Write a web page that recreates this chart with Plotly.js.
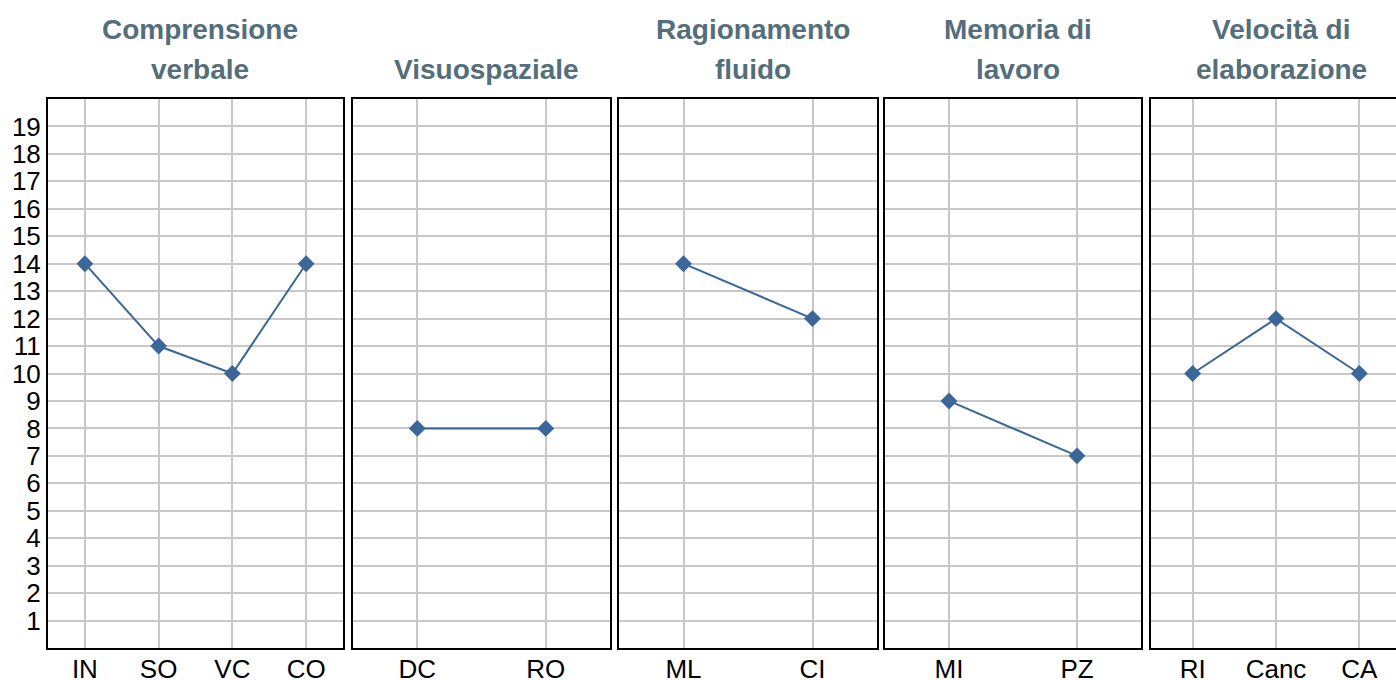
<!DOCTYPE html>
<html><head><meta charset="utf-8">
<script src="https://cdn.plot.ly/plotly-3.0.1.min.js"></script>
<style>html,body{margin:0;padding:0;overflow:hidden;background:#fff;}#chart{width:1402px;height:680px;}</style>
</head><body><div id="chart"></div>
<script>
const panelTitles = [["Comprensione","verbale"],["Visuospaziale"],["Ragionamento","fluido"],["Memoria di","lavoro"],["Velocità di","elaborazione"]];
const cats1 = ["IN","SO","VC","CO"]; const vals1 = [14,11,10,14];
const cats2 = ["DC","RO"]; const vals2 = [8,8];
const cats3 = ["ML","CI"]; const vals3 = [14,12];
const cats4 = ["MI","PZ"]; const vals4 = [9,7];
const cats5 = ["RI","Canc","CA"]; const vals5 = [10,12,10];
const yTicks = [1,2,3,4,5,6,7,8,9,10,11,12,13,14,15,16,17,18,19];

const W = 1402, H = 680;
const panelsPx = [[48,343],[353,610],[619,877],[885,1141],[1151,1401]];
const cats = [cats1,cats2,cats3,cats4,cats5];
const vals = [vals1,vals2,vals3,vals4,vals5];
const lineColor = "#3b6699";
const titleColor = "#546e7a";
const font = "Liberation Sans, Arial, sans-serif";

const data = [];
const layout = {
  width: W, height: H,
  margin: {l:0,r:0,t:0,b:0},
  paper_bgcolor: "#fff", plot_bgcolor: "#fff",
  showlegend: false,
  annotations: []
};
const yDom = [(H-648)/H, (H-99)/H];
for (let i=0;i<5;i++){
  const n = i===0 ? "" : String(i+1);
  data.push({
    x: cats[i].map((c,k)=>k), y: vals[i], type: "scatter", mode: "lines+markers",
    xaxis: "x"+n, yaxis: "y"+n,
    line: {color: lineColor, width: 2},
    marker: {symbol: "diamond", size: 13, color: lineColor},
    hoverinfo: "skip", cliponaxis: false
  });
  layout["xaxis"+n] = {
    domain: [panelsPx[i][0]/W, panelsPx[i][1]/W],
    anchor: "y"+n,
    range: [-0.5, cats[i].length-0.5],
    tickmode: "array", tickvals: cats[i].map((c,k)=>k), ticktext: cats[i],
    showgrid: true, gridcolor: "#c8c8c8", gridwidth: 2,
    showline: true, linecolor: "#000", linewidth: 2, mirror: true,
    ticks: "", ticklen: 0, ticklabelstandoff: -3,
    tickfont: {family: font, size: 26, color: "#000"},
    zeroline: false, fixedrange: true
  };
  layout["yaxis"+n] = {
    domain: yDom, anchor: "x"+n,
    range: [0,20],
    tickmode: "array", tickvals: yTicks,
    showticklabels: i===0,
    showgrid: true, gridcolor: "#c8c8c8", gridwidth: 2,
    showline: true, linecolor: "#000", linewidth: 2, mirror: true,
    ticks: "", ticklen: 0,
    tickfont: {family: font, size: 26, color: "#000"},
    zeroline: false, fixedrange: true
  };
  const cx = ((panelsPx[i][0]+panelsPx[i][1])/2 + 5)/W;
  const lines = panelTitles[i];
  const baselines = lines.length===2 ? [38,78] : [78];
  lines.forEach((t,j)=>{
    layout.annotations.push({
      text: "<b>"+t+"</b>", xref: "paper", yref: "paper",
      x: cx, y: (H-baselines[j]-9)/H, xanchor: "center", yanchor: "bottom",
      showarrow: false,
      font: {family: font, size: 28, color: titleColor}
    });
  });
}
Plotly.newPlot("chart", data, layout, {displayModeBar:false, staticPlot:true});
</script></body></html>
